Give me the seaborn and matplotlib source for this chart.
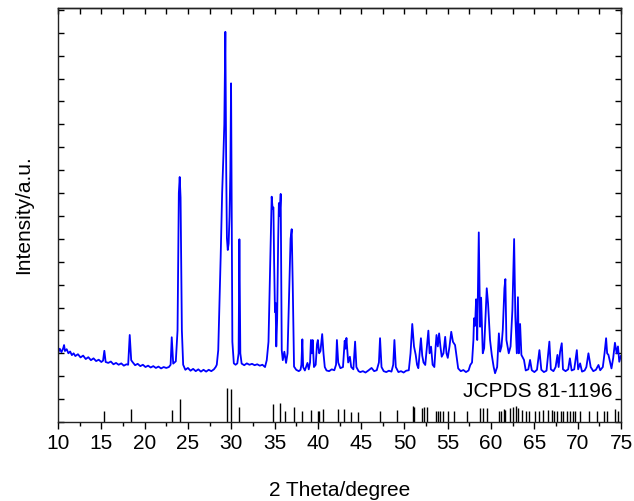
import numpy as np
import matplotlib
matplotlib.use('Agg')
import matplotlib.pyplot as plt
import seaborn as sns
from matplotlib.ticker import MultipleLocator

# measured XRD pattern (2 theta in degree, intensity in counts)
two_theta = [
    10.0, 10.2, 10.4, 10.6, 10.7, 10.8, 11.0, 11.2, 11.4, 11.6, 11.8, 12.0, 12.3, 12.6, 12.9,
    13.2, 13.5, 13.8, 14.1, 14.4, 14.7, 15.0, 15.2, 15.35, 15.5, 15.8, 16.1, 16.4, 16.7, 17.0,
    17.3, 17.6, 17.9, 18.1, 18.28, 18.45, 18.6, 18.9, 19.2, 19.5, 19.8, 20.1, 20.4, 20.7, 21.0,
    21.3, 21.6, 21.9, 22.2, 22.5, 22.8, 23.0, 23.13, 23.3, 23.6, 23.8, 23.95, 24.05, 24.15, 24.3,
    24.45, 24.7, 25.0, 25.3, 25.6, 25.9, 26.2, 26.5, 26.8, 27.1, 27.4, 27.7, 28.0, 28.2, 28.33,
    28.5, 28.7, 28.78, 28.95, 29.09, 29.2, 29.32, 29.42, 29.5, 29.6, 29.7, 29.8, 29.9, 29.98, 30.06,
    30.13, 30.3, 30.5, 30.7, 30.85, 30.94, 31.05, 31.2, 31.5, 31.8, 32.1, 32.4, 32.7, 33.0, 33.3,
    33.6, 33.9, 34.1, 34.3, 34.5, 34.67, 34.78, 34.87, 34.95, 35.05, 35.12, 35.2, 35.3, 35.42, 35.5,
    35.6, 35.71, 35.83, 35.95, 36.13, 36.33, 36.5, 36.7, 36.85, 36.98, 37.1, 37.25, 37.5, 37.8, 38.0,
    38.1, 38.21, 38.3, 38.5, 38.8, 38.95, 39.1, 39.2, 39.3, 39.4, 39.55, 39.75, 39.9, 40.0, 40.15,
    40.3, 40.5, 40.65, 40.8, 41.0, 41.3, 41.6, 41.9, 42.1, 42.2, 42.35, 42.6, 42.9, 43.1, 43.2,
    43.3, 43.5, 43.7, 43.85, 44.1, 44.3, 44.45, 44.7, 44.9, 45.2, 45.5, 45.8, 46.2, 46.5, 46.8,
    47.05, 47.18, 47.35, 47.6, 47.9, 48.2, 48.5, 48.7, 48.84, 49.0, 49.3, 49.6, 49.9, 50.2, 50.5,
    50.7, 50.9, 51.1, 51.3, 51.45, 51.6, 51.75, 51.9, 52.05, 52.2, 52.4, 52.6, 52.76, 52.9, 53.07,
    53.25, 53.45, 53.6, 53.7, 53.85, 54.0, 54.15, 54.3, 54.5, 54.7, 54.85, 55.0, 55.2, 55.4, 55.6,
    55.84, 56.0, 56.2, 56.5, 56.8, 57.1, 57.4, 57.6, 57.8, 57.96, 58.03, 58.15, 58.27, 58.4, 58.58,
    58.73, 58.85, 59.04, 59.2, 59.35, 59.5, 59.65, 59.88, 60.08, 60.3, 60.46, 60.7, 60.9, 61.04, 61.2,
    61.35, 61.54, 61.65, 61.77, 62.04, 62.25, 62.46, 62.66, 62.8, 62.97, 63.1, 63.2, 63.35, 63.5, 63.8,
    64.0, 64.3, 64.5, 64.7, 65.0, 65.3, 65.58, 65.8, 66.1, 66.4, 66.73, 66.9, 67.2, 67.45, 67.66,
    67.8, 67.97, 68.16, 68.3, 68.6, 68.9, 69.1, 69.3, 69.6, 69.9, 70.05, 70.28, 70.5, 70.8, 71.0,
    71.24, 71.5, 71.8, 72.1, 72.4, 72.6, 72.9, 73.1, 73.28, 73.4, 73.55, 73.75, 73.9, 74.1, 74.3,
    74.5, 74.65, 74.8, 75.0,
]
intensity = [
    300, 320, 305, 322, 336, 310, 318, 300, 308, 292, 300, 288, 296, 282, 290,
    275, 283, 270, 278, 266, 272, 262, 268, 311, 262, 258, 264, 252, 258, 250,
    256, 246, 252, 250, 380, 270, 262, 248, 254, 244, 250, 240, 246, 238, 244,
    236, 242, 234, 240, 236, 240, 250, 370, 255, 265, 400, 1000, 1070, 980, 400,
    250, 228, 236, 224, 232, 222, 230, 220, 228, 220, 228, 222, 230, 240, 250,
    314, 600, 722, 1000, 1158, 1300, 1704, 1100, 803, 751, 780, 897, 1100, 1479, 900,
    350, 256, 250, 256, 300, 798, 300, 255, 248, 256, 250, 254, 248, 252, 246,
    250, 240, 270, 350, 700, 984, 930, 937, 700, 480, 520, 330, 450, 800, 956,
    900, 996, 314, 270, 307, 258, 300, 576, 800, 842, 600, 242, 228, 222, 228,
    250, 361, 240, 225, 258, 230, 260, 358, 300, 358, 240, 250, 340, 358, 300,
    310, 384, 300, 240, 225, 222, 230, 226, 250, 358, 260, 235, 240, 355, 320,
    367, 260, 285, 240, 230, 351, 240, 222, 218, 222, 216, 224, 236, 222, 226,
    260, 366, 240, 222, 218, 224, 220, 250, 358, 240, 218, 222, 216, 224, 226,
    300, 428, 330, 293, 250, 235, 300, 366, 290, 260, 249, 330, 399, 300, 329,
    250, 240, 330, 380, 330, 387, 330, 285, 300, 372, 300, 280, 330, 394, 350,
    336, 290, 234, 222, 227, 218, 225, 249, 260, 358, 453, 420, 536, 358, 828,
    416, 543, 300, 322, 450, 584, 518, 358, 293, 240, 213, 240, 387, 307, 330,
    402, 584, 624, 358, 300, 330, 489, 799, 460, 300, 545, 300, 428, 293, 271,
    225, 230, 271, 226, 218, 228, 314, 228, 218, 224, 351, 230, 222, 240, 293,
    240, 307, 344, 230, 222, 230, 278, 225, 230, 314, 230, 256, 220, 225, 240,
    300, 240, 222, 228, 249, 226, 240, 300, 366, 300, 293, 260, 234, 280, 346,
    300, 330, 263, 290,
]

# JCPDS 81-1196 reference lines (position, relative intensity %)
ref_pos = [
    15.35, 18.43, 23.13, 24.05, 29.48, 29.98, 30.94, 34.79, 35.6, 36.2, 37.25, 38.18, 39.18,
    39.98, 40.14, 40.56, 42.3, 43.06, 43.83, 44.6, 47.22, 49.11, 50.95, 51.1, 52.07, 52.3,
    52.57, 53.65, 53.9, 54.14, 54.42, 55.0, 55.69, 57.2, 58.73, 59.04, 59.57, 60.92, 61.12,
    61.5, 61.65, 62.2, 62.58, 62.85, 63.15, 63.54, 64.0, 64.39, 65.08, 65.58, 66.04, 66.62,
    67.0, 67.27, 67.66, 68.05, 68.35, 68.81, 69.12, 69.43, 69.7, 70.28, 71.32, 72.27, 73.08,
    73.36, 74.32, 74.63,
]
ref_int = [
    34, 38, 36, 67, 100, 97, 44, 53, 55, 33, 45, 33, 36,
    32, 32, 38, 38, 39, 31, 31, 33, 36, 47, 45, 42, 44,
    44, 33, 33, 33, 33, 33, 33, 33, 41, 41, 42, 33, 33,
    38, 36, 41, 44, 47, 41, 36, 33, 33, 33, 33, 36, 36,
    36, 33, 33, 33, 33, 33, 33, 33, 33, 33, 33, 33, 33,
    33, 38, 33,
]
ref_scale = 1.47  # counts per % in the stick panel

sns.set_style('ticks')
plt.rcParams['font.family'] = ['Liberation Sans', 'DejaVu Sans']
plt.rcParams['text.color'] = 'black'
plt.rcParams['axes.labelcolor'] = 'black'

fig = plt.figure(figsize=(6.34, 5.01), dpi=100)
ax = fig.add_axes([0.0915, 0.1577, 0.888, 0.8263])

sns.lineplot(x=two_theta, y=intensity, sort=False, estimator=None,
             color='#0000FF', linewidth=1.3, ax=ax)
ax.vlines(ref_pos, 0, np.array(ref_int) * ref_scale, color='black', linewidth=1.0)

ax.text(74.0, 135, 'JCPDS 81-1196', ha='right', va='center', fontsize=15, color='black')

ax.set_xlim(10, 75)
ax.set_ylim(0, 1808)
ax.xaxis.set_major_locator(MultipleLocator(5))
ax.xaxis.set_minor_locator(MultipleLocator(2.5))
ax.yaxis.set_major_locator(MultipleLocator(100))

ax.tick_params(axis='x', which='major', direction='out', length=5, width=1,
               labelsize=15, pad=4, colors='black')
ax.tick_params(axis='x', which='minor', direction='out', length=3, width=1, colors='black')
ax.tick_params(axis='y', which='both', direction='in', left=True, right=True,
               labelleft=False, length=4, width=1, colors='black')

top = ax.secondary_xaxis('top')
top.xaxis.set_major_locator(MultipleLocator(2.5))
top.tick_params(direction='in', length=4, width=1, labeltop=False, colors='black')

for sp in ax.spines.values():
    sp.set_visible(True)
    sp.set_linewidth(1.0)
    sp.set_color('#222222')
top.spines['top'].set_linewidth(1.0)
top.spines['top'].set_color('#222222')

ax.set_xlabel('2 Theta/degree', fontsize=15, labelpad=20, color='black')
ax.set_ylabel('Intensity/a.u.', fontsize=15, labelpad=18, color='black')

fig.savefig('out.png', dpi=100)
